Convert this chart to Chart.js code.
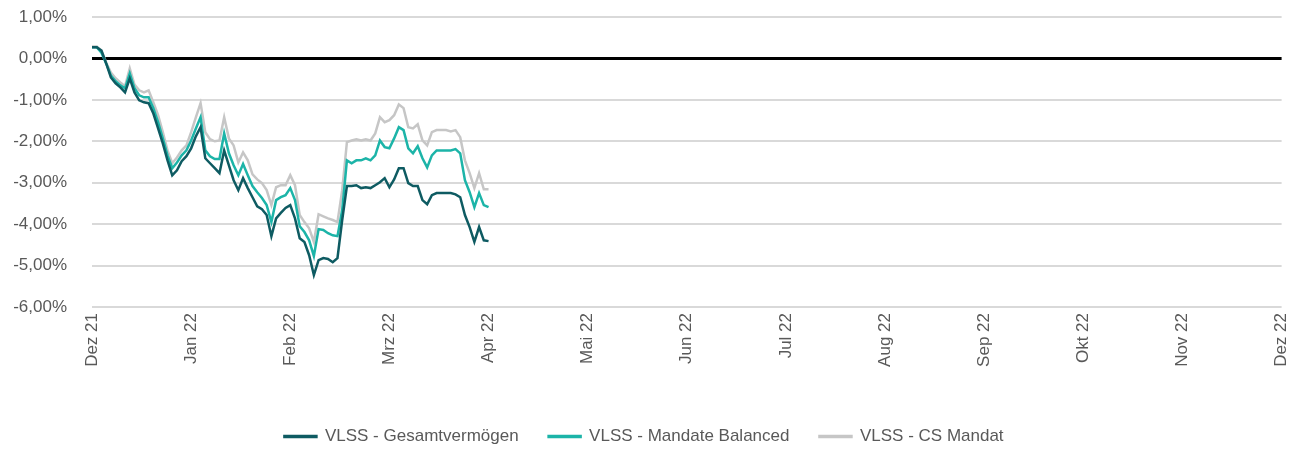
<!DOCTYPE html>
<html>
<head>
<meta charset="utf-8">
<script src="https://cdn.jsdelivr.net/npm/chart.js@4/dist/chart.umd.min.js"></script>
<style>
  html, body { margin: 0; padding: 0; background: #fff; }
  #wrap { width: 1302px; height: 450px; }
</style>
</head>
<body>
<div id="wrap"><canvas id="chart" width="1302" height="450"></canvas></div>
<script>
// Month labels along the x axis (one tick per month)
const monthLabels = ['Dez 21', 'Jan 22', 'Feb 22', 'Mrz 22', 'Apr 22', 'Mai 22', 'Jun 22',
                     'Jul 22', 'Aug 22', 'Sep 22', 'Okt 22', 'Nov 22', 'Dez 22'];

// Y axis tick values (percent)
const yTicks = [-6, -5, -4, -3, -2, -1, 0, 1];

// Trading days per month on the x axis
const daysPerMonth = 21;

// Performance in %, one value per trading day
const gesamtvermoegen = [
  0.27, 0.27, 0.19, -0.12, -0.46, -0.60, -0.70, -0.82, -0.48, -0.82,
  -1.01, -1.06, -1.08, -1.33, -1.69, -2.05, -2.46, -2.82, -2.70, -2.48,
  -2.36, -2.17, -1.88, -1.66, -2.41, -2.53, -2.65, -2.77, -2.22, -2.58,
  -2.94, -3.18, -2.89, -3.13, -3.35, -3.57, -3.64, -3.78, -4.29, -3.86,
  -3.73, -3.61, -3.54, -3.86, -4.34, -4.43, -4.75, -5.23, -4.87, -4.82,
  -4.84, -4.92, -4.82, -3.90, -3.08, -3.08, -3.06, -3.13, -3.11, -3.13,
  -3.06, -2.99, -2.89, -3.11, -2.92, -2.65, -2.65, -3.01, -3.08, -3.08,
  -3.42, -3.52, -3.30, -3.25, -3.25, -3.25, -3.25, -3.28, -3.35, -3.78,
  -4.07, -4.43, -4.07, -4.39, -4.41
];

const mandateBalanced = [
  0.27, 0.27, 0.14, -0.12, -0.41, -0.55, -0.65, -0.72, -0.36, -0.72,
  -0.89, -0.94, -0.94, -1.20, -1.54, -1.93, -2.34, -2.65, -2.51, -2.34,
  -2.22, -1.98, -1.69, -1.42, -2.22, -2.36, -2.43, -2.43, -1.81, -2.29,
  -2.58, -2.82, -2.55, -2.82, -3.08, -3.23, -3.37, -3.54, -3.95, -3.42,
  -3.35, -3.30, -3.13, -3.42, -4.05, -4.19, -4.39, -4.77, -4.12, -4.14,
  -4.22, -4.27, -4.29, -3.66, -2.46, -2.53, -2.46, -2.46, -2.41, -2.46,
  -2.34, -1.98, -2.14, -2.17, -1.93, -1.66, -1.73, -2.17, -2.29, -2.12,
  -2.41, -2.63, -2.34, -2.22, -2.22, -2.22, -2.22, -2.19, -2.29, -2.94,
  -3.23, -3.59, -3.25, -3.54, -3.59
];

const csMandat = [
  0.29, 0.29, 0.19, -0.10, -0.34, -0.48, -0.58, -0.67, -0.24, -0.63,
  -0.77, -0.82, -0.77, -1.06, -1.37, -1.78, -2.22, -2.53, -2.39, -2.22,
  -2.10, -1.78, -1.42, -1.08, -1.78, -1.95, -2.00, -1.98, -1.42, -1.93,
  -2.10, -2.51, -2.27, -2.46, -2.80, -2.92, -3.01, -3.18, -3.54, -3.11,
  -3.06, -3.06, -2.82, -3.06, -3.78, -3.95, -4.10, -4.43, -3.76, -3.81,
  -3.86, -3.90, -3.95, -3.18, -2.02, -1.98, -1.95, -1.98, -1.95, -1.98,
  -1.81, -1.42, -1.54, -1.49, -1.37, -1.11, -1.20, -1.66, -1.69, -1.59,
  -1.98, -2.10, -1.78, -1.73, -1.73, -1.73, -1.76, -1.73, -1.90, -2.46,
  -2.77, -3.13, -2.77, -3.16, -3.16
];

const seriesNames = ['VLSS - Gesamtvermögen', 'VLSS - Mandate Balanced', 'VLSS - CS Mandat'];
const seriesColors = ['#0e5b62', '#1cb4a8', '#c6c6c6'];

// turn a list of daily values into {x, y} points, x measured in months
function toPoints(values) {
  return values.map((v, i) => ({ x: i / daysPerMonth, y: v }));
}

const textColor = '#595959';
const fontFamily = '"Liberation Sans", Arial, sans-serif';

const datasets = [gesamtvermoegen, mandateBalanced, csMandat].map((values, i) => ({
  label: seriesNames[i],
  data: toPoints(values),
  borderColor: seriesColors[i],
  backgroundColor: seriesColors[i],
  borderWidth: 2.5,
  pointRadius: 0,
  tension: 0,
  fill: false
}));

new Chart(document.getElementById('chart'), {
  type: 'line',
  data: { datasets: datasets },
  options: {
    responsive: false,
    animation: false,
    layout: { padding: { top: 17, right: 14, bottom: -5, left: 0 } },
    plugins: {
      tooltip: { enabled: false },
      legend: {
        position: 'bottom',
        labels: {
          color: textColor,
          font: { family: fontFamily, size: 17 },
          boxWidth: 32,
          boxHeight: 1,
          padding: 30
        }
      }
    },
    scales: {
      x: {
        type: 'linear',
        min: 0,
        max: monthLabels.length - 1,
        // invisible tick marks only, so labels sit a bit below the plot
        grid: { display: true, drawOnChartArea: false, drawTicks: true, tickLength: 6,
                color: 'rgba(0,0,0,0)', tickColor: 'rgba(0,0,0,0)' },
        border: { display: false },
        afterBuildTicks: (scale) => {
          scale.ticks = monthLabels.map((_, i) => ({ value: i }));
        },
        afterFit: (scale) => { scale.height = 91; },
        ticks: {
          autoSkip: false,
          minRotation: 90,
          maxRotation: 90,
          padding: 0,
          color: textColor,
          font: { family: fontFamily, size: 17 },
          callback: (v) => monthLabels[v]
        }
      },
      y: {
        min: yTicks[0],
        max: yTicks[yTicks.length - 1],
        afterBuildTicks: (scale) => {
          scale.ticks = yTicks.map(v => ({ value: v }));
        },
        afterFit: (scale) => { scale.width = 92; },
        grid: {
          drawTicks: true,
          tickLength: 25,
          tickColor: 'rgba(0,0,0,0)',
          color: (ctx) => ctx.tick && ctx.tick.value === 0 ? '#000000' : '#d9d9d9',
          lineWidth: (ctx) => ctx.tick && ctx.tick.value === 0 ? 3 : 2
        },
        border: { display: false },
        ticks: {
          padding: 0,
          color: textColor,
          font: { family: fontFamily, size: 17 },
          callback: (v) => v.toFixed(2).replace('.', ',') + '%'
        }
      }
    }
  }
});
</script>
</body>
</html>
